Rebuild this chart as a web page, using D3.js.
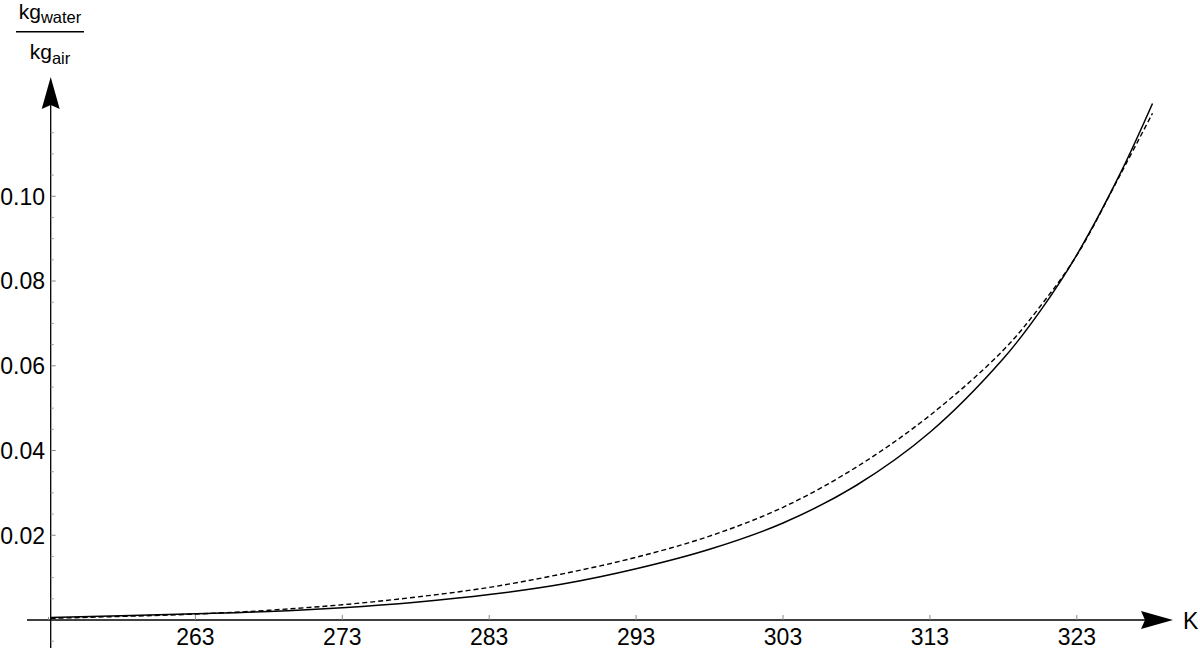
<!DOCTYPE html>
<html>
<head>
<meta charset="utf-8">
<script src="https://cdn.jsdelivr.net/npm/d3@7"></script>
<style>
  body { margin: 0; background: #fff; }
  svg { display: block; font-family: "Liberation Sans", Arial, sans-serif; }
</style>
</head>
<body>
<div id="area_draw"></div>
<script>
// temperature (K) and humidity ratio (kg water / kg air)
var tempK = [253.15, 263, 268, 273, 278, 283, 288, 293, 298, 303, 308, 313, 318, 320.5, 323, 326, 328.15]
var solidVals = [0.0006, 0.00146, 0.0020, 0.0029, 0.0042, 0.0060, 0.0085, 0.0121, 0.0167, 0.0229, 0.0318, 0.0443, 0.0617, 0.0729, 0.0862, 0.1057, 0.1219]
var dashedVals = [0.0004, 0.0014, 0.0023, 0.0036, 0.0054, 0.0077, 0.0109, 0.0148, 0.0198, 0.0266, 0.0361, 0.0483, 0.0637, 0.0740, 0.0861, 0.1054, 0.1196]
var xTicks = [253, 263, 273, 283, 293, 303, 313, 323]
var yTicks = [0.02, 0.04, 0.06, 0.08, 0.10]
var yMinor = [-0.005, 0.005, 0.01, 0.015, 0.025, 0.03, 0.035, 0.045, 0.05, 0.055, 0.065, 0.07, 0.075, 0.085, 0.09, 0.095, 0.105, 0.11, 0.115]

var svgWidth = 1200
var svgHeight = 656
var x = d3.scaleLinear().domain([253.15, 328.15]).range([50.7, 1152.5])
var y = d3.scaleLinear().domain([0, 0.1]).range([620, 196.3])
var x0 = x(253.15), y0 = y(0)

var svg = d3.select('#area_draw').append('svg')
  .attr('width', svgWidth)
  .attr('height', svgHeight)

// axes lines
svg.append('line')
  .attr('x1', 27).attr('x2', 1145).attr('y1', y0).attr('y2', y0)
  .attr('stroke', '#000').attr('stroke-width', 1.3)
svg.append('line')
  .attr('x1', x0).attr('x2', x0).attr('y1', 648).attr('y2', 105)
  .attr('stroke', '#000').attr('stroke-width', 1.3)

// arrow heads
svg.append('path')
  .attr('d', 'M1173,' + y0 + 'L1141,' + (y0 - 9) + 'L1145,' + y0 + 'L1141,' + (y0 + 9) + 'Z')
  .attr('fill', '#000')
svg.append('path')
  .attr('d', 'M' + x0 + ',77L' + (x0 - 9) + ',109L' + x0 + ',105L' + (x0 + 9) + ',109Z')
  .attr('fill', '#000')

// x ticks
svg.selectAll('.xt')
  .data(xTicks)
  .enter()
  .append('line')
    .attr('class', 'xt')
    .attr('x1', function(d) { return x(d); })
    .attr('x2', function(d) { return x(d); })
    .attr('y1', y0)
    .attr('y2', function(d) { return d == 253 ? y0 - 3 : y0 - 5; })
    .attr('stroke', '#888').attr('stroke-width', 1)
svg.selectAll('.xl')
  .data(xTicks.filter(function(d) { return d != 253; }))
  .enter()
  .append('text')
    .attr('class', 'xl')
    .attr('x', function(d) { return x(d); })
    .attr('y', 645)
    .attr('text-anchor', 'middle')
    .attr('font-size', 23)
    .text(function(d) { return d; })

// y ticks
svg.selectAll('.ym')
  .data(yMinor)
  .enter()
  .append('line')
    .attr('class', 'ym')
    .attr('x1', x0).attr('x2', x0 + 3)
    .attr('y1', function(d) { return y(d); })
    .attr('y2', function(d) { return y(d); })
    .attr('stroke', '#999').attr('stroke-width', 1)
svg.selectAll('.yt')
  .data(yTicks)
  .enter()
  .append('line')
    .attr('class', 'yt')
    .attr('x1', x0).attr('x2', x0 + 5)
    .attr('y1', function(d) { return y(d); })
    .attr('y2', function(d) { return y(d); })
    .attr('stroke', '#888').attr('stroke-width', 1)
svg.selectAll('.yl')
  .data(yTicks)
  .enter()
  .append('text')
    .attr('class', 'yl')
    .attr('x', 45)
    .attr('y', function(d) { return y(d) + 8.3; })
    .attr('text-anchor', 'end')
    .attr('font-size', 23)
    .text(function(d) { return d3.format('.2f')(d); })

// axis labels
svg.append('text')
  .attr('x', 1183).attr('y', 628.5)
  .attr('font-size', 23)
  .text('K')

var num = svg.append('text').attr('x', 50).attr('y', 18.5).attr('text-anchor', 'middle')
num.append('tspan').attr('font-size', 21).text('kg')
num.append('tspan').attr('font-size', 16.5).attr('dy', 4.5).text('water')
svg.append('line')
  .attr('x1', 16).attr('x2', 84).attr('y1', 31.7).attr('y2', 31.7)
  .attr('stroke', '#000').attr('stroke-width', 1.5)
var den = svg.append('text').attr('x', 50).attr('y', 58.5).attr('text-anchor', 'middle')
den.append('tspan').attr('font-size', 21).text('kg')
den.append('tspan').attr('font-size', 16.5).attr('dy', 5).text('air')

// curves
var line = d3.line()
  .x(function(d) { return x(d[0]); })
  .y(function(d) { return y(d[1]); })
  .curve(d3.curveCatmullRom.alpha(0.5))

svg.append('path')
  .datum(d3.zip(tempK, dashedVals))
  .attr('d', line)
  .attr('fill', 'none')
  .attr('stroke', '#000')
  .attr('stroke-width', 1.4)
  .attr('stroke-dasharray', '5,3')
svg.append('path')
  .datum(d3.zip(tempK, solidVals))
  .attr('d', line)
  .attr('fill', 'none')
  .attr('stroke', '#000')
  .attr('stroke-width', 1.5)
</script>
</body>
</html>
